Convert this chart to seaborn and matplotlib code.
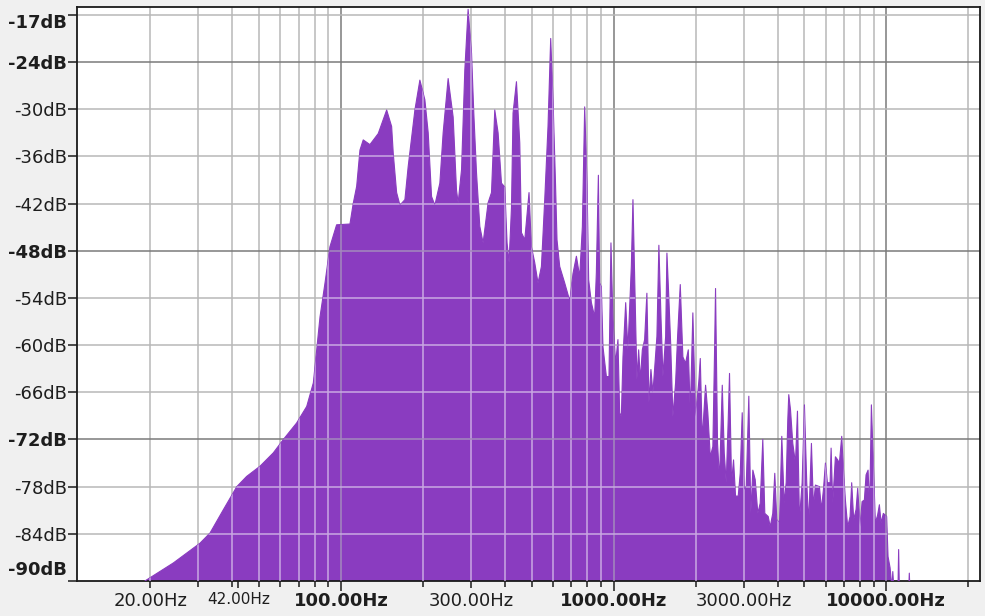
import matplotlib
matplotlib.use("Agg")
import matplotlib.pyplot as plt
import seaborn as sns
import pandas as pd
from matplotlib.patches import PathPatch
from matplotlib.transforms import ScaledTranslation
from matplotlib.ticker import FixedLocator, NullFormatter

# ---------------- data ----------------
freq_hz = [18.9, 19.1, 24.3, 30.4, 33.1, 37.1, 41.5, 45.1, 50.5, 56.5, 61.5, 68.8, 74.9,
           79.2, 81.5, 83.8, 87.4, 91.1, 96.4, 107.9, 110.9, 114.2, 117.4, 120.7, 127.7,
           137.0, 147.1, 153.4, 155.5, 160.0, 164.5, 171.6, 176.4, 186.7, 194.7, 203.1,
           208.9, 214.9, 221.0, 230.5, 237.0, 247.2, 257.9, 265.3, 269.0, 276.8, 284.6,
           292.6, 301.2, 307.0, 314.1, 323.0, 332.1, 346.4, 356.5, 366.5, 376.9, 387.8,
           398.7, 406.6, 413.5, 422.0, 427.6, 440.1, 452.6, 459.1, 472.1, 489.4, 499.4,
           513.5, 528.0, 543.4, 558.8, 574.5, 587.7, 599.3, 611.5, 619.8, 634.1, 661.5,
           684.2, 690.0, 709.4, 730.1, 750.7, 767.9, 783.0, 798.3, 809.8, 828.5, 851.9,
           864.1, 879.0, 888.6, 901.4, 913.7, 940.4, 961.2, 977.5, 994.0, 1017, 1037,
           1052, 1067, 1082, 1107, 1128, 1161, 1177, 1201, 1217, 1235, 1253, 1274, 1299,
           1324, 1347, 1370, 1393, 1441, 1465, 1491, 1516, 1551, 1568, 1591, 1618, 1649,
           1687, 1716, 1755, 1794, 1835, 1878, 1910, 1952, 1997, 2053, 2078, 2113, 2173,
           2215, 2261, 2311, 2344, 2364, 2404, 2445, 2502, 2544, 2587, 2631, 2660, 2706,
           2752, 2799, 2863, 2912, 2961, 3012, 3063, 3131, 3184, 3239, 3304, 3378, 3447,
           3523, 3583, 3688, 3750, 3833, 3898, 3965, 4057, 4136, 4220, 4292, 4351, 4387,
           4451, 4538, 4642, 4721, 4801, 4911, 5007, 5106, 5193, 5312, 5402, 5494, 5683,
           5779, 5878, 5979, 6080, 6220, 6272, 6358, 6504, 6631, 6727, 6860, 6976, 7076,
           7215, 7362, 7463, 7590, 7745, 7851, 8011, 8147, 8306, 8426, 8570, 8686, 8813,
           8962, 9114, 9292, 9428, 9564, 9750, 10025, 10144, 10318, 10493, 10560, 10650,
           11030, 11093, 11160, 12080, 12139, 12200]
level_db = [-91, -90.0, -87.7, -85.2, -83.9, -80.9, -78.0, -76.7, -75.4, -73.7, -72.0, -69.9, -67.8,
            -64.8, -60.6, -56.4, -52.1, -47.5, -44.7, -44.6, -42.0, -39.8, -35.2, -33.9, -34.5,
            -33.1, -30.1, -32.2, -35.6, -40.6, -42.2, -41.5, -37.3, -30.1, -26.3, -28.8,
            -33.0, -41.1, -42.2, -39.4, -33.0, -26.1, -31.0, -40.3, -41.9, -37.7, -25.0,
            -17.3, -22.9, -30.5, -38.1, -44.9, -47.0, -41.9, -40.6, -30.1, -33.0, -39.4,
            -39.9, -47.0, -49.5, -42.5, -30.5, -26.5, -34.3, -45.7, -46.6, -40.6, -47.5,
            -49.5, -52.1, -50.0, -41.5, -32.2, -21.0, -28.8, -39.0, -46.6, -50.0, -52.1,
            -53.9, -54.5, -50.9, -48.7, -51.3, -44.9, -29.7, -39.2, -51.7, -54.6, -56.4,
            -50.8, -38.4, -52.1, -52.6, -60.2, -64.0, -64.0, -47.0, -56.8, -62.3, -59.3,
            -68.6, -69.1, -61.5, -54.6, -60.6, -50.0, -41.5, -55.1, -64.4, -60.6, -64.4, -60.6, -59.3,
            -53.4, -67.3, -63.1, -66.1, -58.9, -47.3, -56.4, -64.0, -58.9, -48.3, -53.4, -59.7, -69.1,
            -64.8, -58.9, -52.3, -61.5, -62.3, -60.6, -68.6, -55.9, -69.1, -64.6, -61.7, -72.0, -65.1,
            -68.6, -74.2, -72.9, -61.0, -52.8, -72.5, -77.1, -65.1, -73.7, -77.5, -69.5, -63.6, -77.5,
            -74.6, -79.2, -79.2, -76.3, -68.6, -78.4, -78.0, -66.5, -81.4, -75.9, -77.1, -81.4, -80.1,
            -72.0, -81.4, -81.8, -83.1, -81.4, -76.3, -82.2, -82.6, -71.6, -80.1, -77.5, -69.5, -66.3,
            -68.2, -72.5, -75.0, -68.4, -82.2, -77.5, -67.6, -77.5, -82.6, -72.5, -80.5, -77.8, -78.0,
            -80.9, -78.4, -75.0, -77.5, -77.5, -73.1, -80.1, -74.2, -74.6, -75.0, -71.6, -76.3, -79.7,
            -83.1, -81.8, -77.5, -82.2, -80.9, -78.2, -83.1, -79.9, -79.7, -76.5, -75.9, -80.9, -67.6,
            -75.0, -82.6, -81.6, -80.3, -82.6, -81.4, -81.8, -86.9, -88.3, -91, -88.8, -91,
            -91, -86.0, -91, -91, -89.0, -91]

x_major_ticks = [20, 42, 100, 300, 1000, 3000, 10000]
x_major_labels = ["20.00Hz", "42.00Hz", "100.00Hz", "300.00Hz", "1000.00Hz", "3000.00Hz", "10000.00Hz"]
x_bold_labels = ["100.00Hz", "1000.00Hz", "10000.00Hz"]
x_grid = [20, 30, 40, 50, 60, 70, 80, 90, 100, 200, 300, 400, 500, 600, 700, 800, 900,
          1000, 2000, 3000, 4000, 5000, 6000, 7000, 8000, 9000, 10000, 20000]
x_grid_dark = [100, 1000, 10000]
y_ticks = [-17, -24, -30, -36, -42, -48, -54, -60, -66, -72, -78, -84, -90]
y_labels = ["-17dB", "-24dB", "-30dB", "-36dB", "-42dB", "-48dB", "-54dB", "-60dB",
            "-66dB", "-72dB", "-78dB", "-84dB", "-90dB"]
y_bold_labels = ["-17dB", "-24dB", "-48dB", "-72dB", "-90dB"]
y_grid = [-18, -24, -30, -36, -42, -48, -54, -60, -66, -72, -78, -84]
y_grid_dark = [-24, -48, -72]

PURPLE = "#8a3cc0"
GRID_LIGHT = "#b8b8b8"
GRID_DARK = "#7a7a7a"
GRID_ON_FILL_LIGHT = "#c9a9e3"
GRID_ON_FILL_DARK = "#a489bd"

sns.set_theme(style="white")
plt.rcParams["font.family"] = ["DejaVu Sans"]

fig = plt.figure(figsize=(9.85, 6.16), dpi=100, facecolor="#f0f0f0")
ax = fig.add_axes([77 / 985, 35 / 616, 903 / 985, 574 / 616])
ax.set_facecolor("white")

df = pd.DataFrame({"freq": freq_hz, "db": level_db})
sns.lineplot(data=df, x="freq", y="db", ax=ax, color=PURPLE, lw=0.8,
             estimator=None, sort=False, zorder=3)
poly = ax.fill_between(df["freq"], df["db"], -100, color=PURPLE, lw=0, zorder=2)

ax.set_xscale("log")
ax.set_xlim(10.766, 22050)
ax.set_ylim(-90, -17)
ax.set_xlabel("")
ax.set_ylabel("")

clip_patch = PathPatch(poly.get_paths()[0], transform=ax.transData)

for f in x_grid:
    dark = f in x_grid_dark
    ax.axvline(f, color=GRID_DARK if dark else GRID_LIGHT, lw=1.1, zorder=1)
    ln = ax.axvline(f, color=GRID_ON_FILL_DARK if dark else GRID_ON_FILL_LIGHT, lw=1.1, zorder=4)
    ln.set_clip_path(clip_patch)
for v in y_grid:
    dark = v in y_grid_dark
    ax.axhline(v, color=GRID_DARK if dark else GRID_LIGHT, lw=1.1, zorder=1)
    ln = ax.axhline(v, color=GRID_ON_FILL_DARK if dark else GRID_ON_FILL_LIGHT, lw=1.1, zorder=4)
    ln.set_clip_path(clip_patch)

for s in ax.spines.values():
    s.set_color("#1a1a1a")
    s.set_linewidth(1.3)
    s.set_visible(True)

# x ticks
ax.xaxis.set_major_locator(FixedLocator(x_major_ticks))
ax.set_xticklabels(x_major_labels)
ax.xaxis.set_minor_locator(FixedLocator([f for f in x_grid if f not in x_major_ticks]))
ax.xaxis.set_minor_formatter(NullFormatter())
ax.tick_params(axis="x", which="both", bottom=True, direction="out", color="#1a1a1a",
               width=1.1, labelsize=13, labelcolor="#1e1e1e", pad=3)
ax.tick_params(axis="x", which="major", length=5)
ax.tick_params(axis="x", which="minor", length=4.5)
for t, lab in zip(ax.xaxis.get_major_ticks(), x_major_labels):
    if lab in x_bold_labels:
        t.label1.set_fontweight("bold")
        t.tick1line.set_markersize(7)
    if lab == "42.00Hz":
        t.label1.set_fontsize(11)

# y ticks
ax.yaxis.set_major_locator(FixedLocator(y_ticks))
ax.set_yticklabels(y_labels)
ax.yaxis.set_minor_locator(FixedLocator([-18]))
ax.tick_params(axis="y", which="both", left=True, direction="out", color="#1a1a1a",
               width=1.1, length=6.5, labelsize=13, labelcolor="#1e1e1e", pad=0.5)
for t, lab in zip(ax.yaxis.get_major_ticks(), y_labels):
    if lab in y_bold_labels:
        t.label1.set_fontweight("bold")
    if lab == "-17dB":
        t.tick1line.set_visible(False)
        t.label1.set_transform(t.label1.get_transform() +
                               ScaledTranslation(0, -14 / 100, fig.dpi_scale_trans))
    if lab == "-90dB":
        t.label1.set_transform(t.label1.get_transform() +
                               ScaledTranslation(0, 13 / 100, fig.dpi_scale_trans))

fig.savefig("out.png", dpi=100, facecolor=fig.get_facecolor())
